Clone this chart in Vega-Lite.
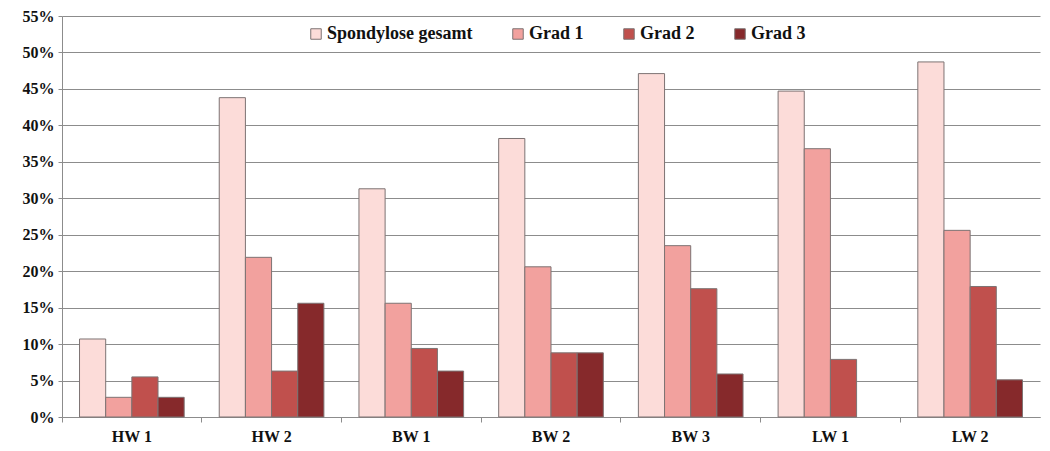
{
  "$schema": "https://vega.github.io/schema/vega-lite/v6.json",
  "width": 978,
  "height": 401,
  "autosize": {"type": "none"},
  "padding": {"left": 62, "top": 16, "right": 10, "bottom": 34},
  "background": "white",
  "config": {
    "view": {"stroke": null},
    "font": "Liberation Serif"
  },
  "data": {
    "values": [
      {"gruppe": "HW 1", "serie": "Spondylose gesamt", "wert": 0.107},
      {"gruppe": "HW 1", "serie": "Grad 1", "wert": 0.027},
      {"gruppe": "HW 1", "serie": "Grad 2", "wert": 0.055},
      {"gruppe": "HW 1", "serie": "Grad 3", "wert": 0.027},
      {"gruppe": "HW 2", "serie": "Spondylose gesamt", "wert": 0.438},
      {"gruppe": "HW 2", "serie": "Grad 1", "wert": 0.219},
      {"gruppe": "HW 2", "serie": "Grad 2", "wert": 0.063},
      {"gruppe": "HW 2", "serie": "Grad 3", "wert": 0.156},
      {"gruppe": "BW 1", "serie": "Spondylose gesamt", "wert": 0.313},
      {"gruppe": "BW 1", "serie": "Grad 1", "wert": 0.156},
      {"gruppe": "BW 1", "serie": "Grad 2", "wert": 0.094},
      {"gruppe": "BW 1", "serie": "Grad 3", "wert": 0.063},
      {"gruppe": "BW 2", "serie": "Spondylose gesamt", "wert": 0.382},
      {"gruppe": "BW 2", "serie": "Grad 1", "wert": 0.206},
      {"gruppe": "BW 2", "serie": "Grad 2", "wert": 0.088},
      {"gruppe": "BW 2", "serie": "Grad 3", "wert": 0.088},
      {"gruppe": "BW 3", "serie": "Spondylose gesamt", "wert": 0.471},
      {"gruppe": "BW 3", "serie": "Grad 1", "wert": 0.235},
      {"gruppe": "BW 3", "serie": "Grad 2", "wert": 0.176},
      {"gruppe": "BW 3", "serie": "Grad 3", "wert": 0.059},
      {"gruppe": "LW 1", "serie": "Spondylose gesamt", "wert": 0.447},
      {"gruppe": "LW 1", "serie": "Grad 1", "wert": 0.368},
      {"gruppe": "LW 1", "serie": "Grad 2", "wert": 0.079},
      {"gruppe": "LW 2", "serie": "Spondylose gesamt", "wert": 0.487},
      {"gruppe": "LW 2", "serie": "Grad 1", "wert": 0.256},
      {"gruppe": "LW 2", "serie": "Grad 2", "wert": 0.179},
      {"gruppe": "LW 2", "serie": "Grad 3", "wert": 0.051}
    ]
  },
  "mark": {"type": "bar", "stroke": "#7d7373", "strokeWidth": 1},
  "encoding": {
    "x": {
      "field": "gruppe",
      "type": "nominal",
      "sort": ["HW 1", "HW 2", "BW 1", "BW 2", "BW 3", "LW 1", "LW 2"],
      "scale": {"paddingInner": 0, "paddingOuter": 0},
      "axis": {
        "title": null,
        "labelAngle": 0,
        "labelFont": "Liberation Serif",
        "labelFontWeight": "bold",
        "labelFontSize": 16,
        "labelColor": "#111111",
        "labelPadding": 6,
        "bandPosition": 0,
        "tickSize": 5,
        "tickColor": "#8c8c8c",
        "domainColor": "#8c8c8c",
        "grid": false
      }
    },
    "xOffset": {
      "field": "serie",
      "type": "nominal",
      "sort": ["Spondylose gesamt", "Grad 1", "Grad 2", "Grad 3"],
      "scale": {"domain": ["Spondylose gesamt", "Grad 1", "Grad 2", "Grad 3"], "paddingInner": 0, "paddingOuter": 0.67}
    },
    "y": {
      "field": "wert",
      "type": "quantitative",
      "scale": {"domain": [0, 0.55], "nice": false},
      "axis": {
        "title": null,
        "format": ".0%",
        "values": [0, 0.05, 0.1, 0.15, 0.2, 0.25, 0.3, 0.35, 0.4, 0.45, 0.5, 0.55],
        "labelFont": "Liberation Serif",
        "labelFontWeight": "bold",
        "labelFontSize": 16,
        "labelColor": "#111111",
        "labelPadding": 4,
        "tickSize": 4,
        "tickColor": "#8c8c8c",
        "domainColor": "#8c8c8c",
        "gridColor": "#8c8c8c",
        "gridWidth": 1
      }
    },
    "color": {
      "field": "serie",
      "type": "nominal",
      "sort": ["Spondylose gesamt", "Grad 1", "Grad 2", "Grad 3"],
      "scale": {
        "domain": ["Spondylose gesamt", "Grad 1", "Grad 2", "Grad 3"],
        "range": ["#fcdcd9", "#f2a19e", "#c0504d", "#86292b"]
      },
      "legend": {
        "title": null,
        "orient": "none",
        "direction": "horizontal",
        "legendX": 245,
        "legendY": 9,
        "symbolType": "square",
        "symbolSize": 110,
        "symbolStrokeColor": "#7d7373",
        "symbolStrokeWidth": 1,
        "labelFont": "Liberation Serif",
        "labelFontWeight": "bold",
        "labelFontSize": 18,
        "labelColor": "#111111",
        "columnPadding": 36,
        "labelOffset": 2
      }
    }
  }
}
